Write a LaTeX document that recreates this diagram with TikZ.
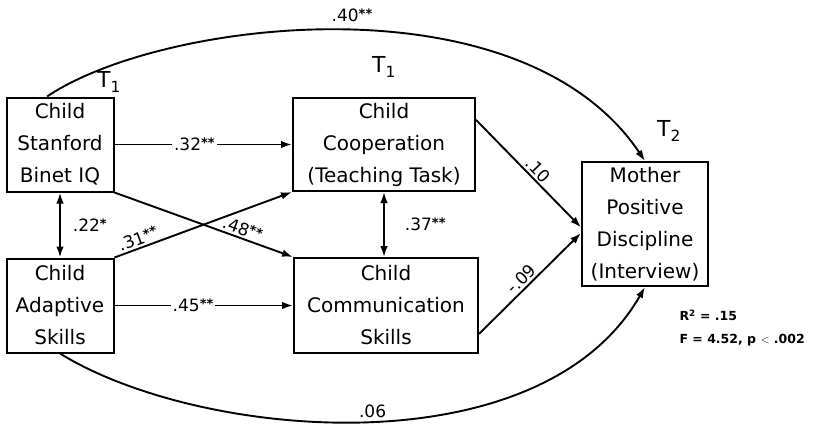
\documentclass[tikz,border=0pt]{standalone}
\usepackage{fontspec}
\setmainfont{DejaVu Sans}
\usetikzlibrary{arrows.meta}

\tikzset{
  varbox/.style={draw, line width=2pt, align=center, inner sep=0pt,
    font=\fontsize{20}{32}\selectfont},
  effect/.style={line width=1.9pt, -{Latex[length=11pt,width=7.5pt]}},
  corr/.style={line width=1.9pt, {Latex[length=11pt,width=7.5pt]}-{Latex[length=11pt,width=7.5pt]}},
  coef/.style={font=\fontsize{17}{20}\selectfont, inner sep=2pt},
  wave/.style={font=\fontsize{22}{24}\selectfont},
  fitstat/.style={font=\bfseries\fontsize{12.5}{23}\selectfont, align=left, anchor=west}
}
\newcommand{\stars}[1]{\raisebox{0.35ex}{\fontsize{13}{13}\selectfont\bfseries #1}}

\begin{document}
\begin{tikzpicture}[x=1pt,y=-1pt]
\useasboundingbox (0,0) rectangle (816,424);
\node[varbox, minimum width=107pt, minimum height=94pt] (iq) at (60,144.5) {Child\\Stanford\\Binet IQ};
\node[varbox, minimum width=107pt, minimum height=94pt] (adapt) at (60,305.5) {Child\\Adaptive\\Skills};
\node[varbox, minimum width=182pt, minimum height=93pt] (coop) at (384,144.5) {Child\\Cooperation\\(Teaching Task)};
\node[varbox, minimum width=184pt, minimum height=95pt] (comm) at (386,305.5) {Child\\Communication\\Skills};
\node[varbox, minimum width=126pt, minimum height=124pt] (disc) at (645,224) {Mother\\Positive\\Discipline\\(Interview)};
\node[wave] (t1a) at (109,82) {T\textsubscript{1}};
\node[wave] (t1b) at (384,67) {T\textsubscript{1}};
\node[wave] (t2) at (669,131) {T\textsubscript{2}};
\draw[effect] (iq.east) -- node[coef, fill=white, pos=.45] {.32\stars{**}} (coop.west);
\draw[effect] (adapt.east) -- node[coef, fill=white, pos=.44] {.45\stars{**}} (comm.west);
\draw[corr] (iq.south) -- node[coef, right=10pt] {.22\stars{*}} (adapt.north);
\draw[corr] (coop.south) -- node[coef, right=18pt] {.37\stars{**}} (coop.south |- comm.north);
\draw[effect] (adapt.north east) -- node[coef, sloped, above, pos=.15] {.31\stars{**}} (coop.south west);
\draw[effect] (iq.south east) -- node[coef, sloped, above, pos=.7] {.48\stars{**}} (comm.north west);
\draw[effect] (coop.15) -- node[coef, sloped, above, pos=.53] {.10} (disc.183);
\draw[effect] (comm.343) -- node[coef, sloped, above, pos=.48] {-.09} (disc.188);
\draw[effect] (iq.105) .. controls (160,20) and (520,-25) .. (disc.north);
\node[coef] (top) at (352,15) {.40\stars{**}};
\draw[effect] (adapt.south) .. controls (200,440) and (540,470) .. node[coef, above, pos=.51] {.06} (disc.south);
\node[fitstat] (fit) at (676,328) {R\textsuperscript{2} = .15\\F = 4.52, p $<$ .002};
\end{tikzpicture}
\end{document}
